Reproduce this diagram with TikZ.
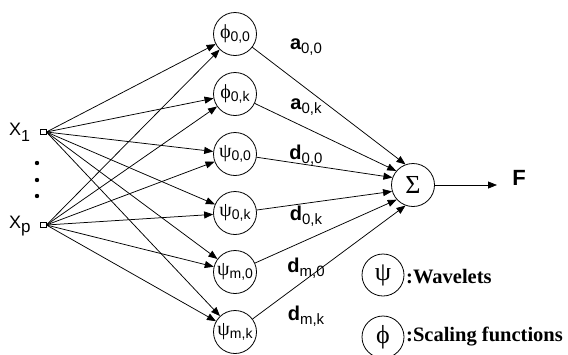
\documentclass[tikz,border=0pt]{standalone}
\usepackage{fontspec}
\setmainfont{Liberation Serif}
\newfontfamily\sansf{Liberation Sans}
\usetikzlibrary{arrows.meta}
\newcommand\hidlab[2]{{\fontsize{20}{20}\selectfont #1}\raisebox{-3pt}{\sansf\fontsize{14}{14}\selectfont #2}}
\newcommand\wlab[2]{#1\raisebox{-4pt}{\mdseries\fontsize{15}{15}\selectfont #2}}
\begin{document}
\begin{tikzpicture}[x=1pt,y=-1pt,
  hid/.style={circle,draw,line width=0.8pt,minimum size=43pt,inner sep=0pt},
  inp/.style={rectangle,draw,line width=0.8pt,minimum width=6pt,minimum height=5pt,inner sep=0pt},
  con/.style={line width=0.75pt,-{Triangle[length=9pt,width=7pt]}},
  wt/.style={inner sep=0pt,font=\sansf\bfseries\fontsize{20}{20}\selectfont},
  xlab/.style={inner sep=0pt,anchor=base west,font=\sansf\fontsize{18}{18}\selectfont},
  legtxt/.style={inner sep=0pt,anchor=west,font=\bfseries\fontsize{20.5}{20.5}\selectfont}
]
\useasboundingbox (0,0) rectangle (568,354);
% inputs
\node[inp] (x1) at (43,132) {};
\node[inp] (xp) at (43,225) {};
\node[xlab] (lx1) at (9,135) {X\raisebox{-6pt}{\fontsize{16}{16}\selectfont 1}};
\node[xlab] (lxp) at (9,228) {X\raisebox{-4pt}{\fontsize{17}{17}\selectfont p}};
\fill (37,163) circle (2.2);
\fill (37,180) circle (2.2);
\fill (37,196) circle (2.2);
% hidden nodes
\node[hid] (h1) at (235,34) {\hidlab{ϕ}{0,0}};
\node[hid] (h2) at (235,94) {\hidlab{ϕ}{0,k}};
\node[hid] (h3) at (235,154) {\hidlab{ψ}{0,0}};
\node[hid] (h4) at (235,213) {\hidlab{ψ}{0,k}};
\node[hid] (h5) at (235,272) {\hidlab{ψ}{m,0}};
\node[hid] (h6) at (235,332) {\hidlab{ψ}{m,k}};
% sum
\node[hid] (s) at (413,185) {\fontsize{26}{26}\selectfont Σ};
\node[inner sep=0pt,font=\sansf\bfseries\fontsize{22}{22}\selectfont] (F) at (519,178) {F};
\coordinate (fa) at (497,185);
% input connections
\foreach \i in {1,...,6} {
  \draw[con] (x1.east) -- (h\i);
  \draw[con] (xp.east) -- (h\i);
}
% output connections
\draw[con] (h1) -- (s.110);
\draw[con] (h2) -- (s.140);
\draw[con] (h3) -- (s.160);
\draw[con] (h4) -- (s.197);
\draw[con] (h5) -- (s.222);
\draw[con] (h6) -- (s.250);
\draw[con] (s) -- (fa);
% weights
\node[wt] (w1) at (306,47) {\wlab{a}{0,0}};
\node[wt] (w2) at (306,107) {\wlab{a}{0,k}};
\node[wt] (w3) at (306,155) {\wlab{d}{0,0}};
\node[wt] (w4) at (306,216) {\wlab{d}{0,k}};
\node[wt] (w5) at (306,268) {\wlab{d}{m,0}};
\node[wt] (w6) at (306,316) {\wlab{d}{m,k}};
% legend
\node[hid,minimum size=42pt] (lg1) at (383,275) {\fontsize{26}{26}\selectfont ψ};
\node[legtxt] (lt1) at (406,277) {:Wavelets};
\node[hid,minimum size=42pt] (lg2) at (383,337) {\fontsize{26}{26}\selectfont ϕ};
\node[legtxt] (lt2) at (406,337) {:Scaling functions};
\end{tikzpicture}
\end{document}
